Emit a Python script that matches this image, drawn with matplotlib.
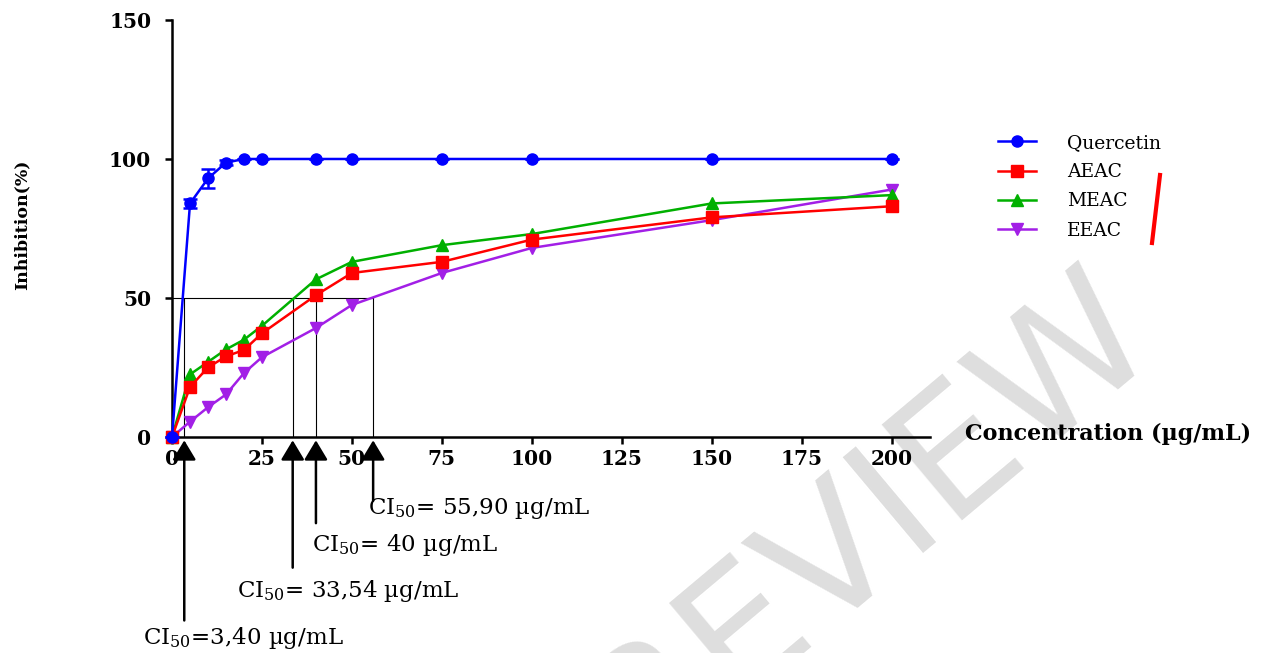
import matplotlib
matplotlib.use("Agg")
import matplotlib.pyplot as plt
from matplotlib.lines import Line2D

plt.rcParams['font.family'] = 'serif'
plt.rcParams['font.serif'] = ['DejaVu Serif', 'Liberation Serif']
plt.rcParams['mathtext.fontset'] = 'dejavuserif'

# Data
conc = [0, 5, 10, 15, 20, 25, 40, 50, 75, 100, 150, 200]
quercetin = [0, 84, 93, 98.7, 100, 100, 100, 100, 100, 100, 100, 100]
quercetin_err = [0, 1.5, 3.4, 1.0, 0, 0, 0, 0, 0, 0, 0, 0]
aeac = [0, 18, 25, 29, 31.3, 37.3, 51, 59, 63, 71, 79, 83]
meac = [0, 22.5, 27, 31.5, 35, 40, 56.7, 63, 69, 73, 84, 87]
eeac = [0, 5.5, 10.7, 15.3, 23, 28.7, 39.2, 47.5, 59, 68, 78, 89]

ci50_values = [3.40, 33.54, 40, 55.90]
ci50_labels = ['CI$_{50}$=3,40 µg/mL', 'CI$_{50}$= 33,54 µg/mL',
               'CI$_{50}$= 40 µg/mL', 'CI$_{50}$= 55,90 µg/mL']

blue = '#0000ff'
red = '#ff0000'
green = '#00b000'
purple = '#a21fe6'

fig = plt.figure(figsize=(12.64, 6.53), dpi=100)
ax = fig.add_axes([0.1361, 0.3308, 0.5997, 0.6386])
ax.set_facecolor('none')

# watermark behind everything
fig.text(0.657, 0.15, 'PREVIEW', fontsize=124, rotation=40, rotation_mode='anchor',
         color='#dedede', ha='center', va='center', family='DejaVu Sans', zorder=-1)

lw = 1.8
ax.plot(conc, eeac, color=purple, lw=lw, marker='v', ms=9, clip_on=False, zorder=3)
ax.plot(conc, meac, color=green, lw=lw, marker='^', ms=9, clip_on=False, zorder=4)
ax.plot(conc, aeac, color=red, lw=lw, marker='s', ms=9, clip_on=False, zorder=5)
ax.errorbar(conc, quercetin, yerr=quercetin_err, color=blue, lw=lw, marker='o', ms=8,
            capsize=5, capthick=1.8, elinewidth=1.8, clip_on=False, zorder=6)

# 50 % guide lines
ax.plot([0, max(ci50_values)], [50, 50], color='black', lw=0.8, zorder=2)
ax.vlines(ci50_values, 0, 50, color='black', lw=0.8, zorder=2)

# arrows under the axis with the CI50 labels
arrow_ends = [-66, -47, -31, -23]
label_y = [-72.3, -55.4, -38.8, -25.9]
label_x = [-8.1, 18, 39, 54.5]
for v, yb, lab, ly, lx in zip(ci50_values, arrow_ends, ci50_labels, label_y, label_x):
    ax.annotate('', xy=(v, -1.2), xytext=(v, yb), xycoords='data', textcoords='data',
                annotation_clip=False,
                arrowprops=dict(arrowstyle='-|>,head_length=0.6,head_width=0.36',
                                mutation_scale=20, color='black', lw=1.8,
                                shrinkA=0, shrinkB=0))
    ax.text(lx, ly, lab, fontsize=16.5, ha='left', va='center', clip_on=False)

ax.set_xlim(0, 210.7)
ax.set_ylim(0, 150)
ax.set_xticks([0, 25, 50, 75, 100, 125, 150, 175, 200])
ax.set_yticks([0, 50, 100, 150])
for s in ['top', 'right']:
    ax.spines[s].set_visible(False)
for s in ['left', 'bottom']:
    ax.spines[s].set_linewidth(1.8)
ax.tick_params(axis='both', direction='out', length=5, width=1.8, labelsize=14.5)
ax.tick_params(axis='x', pad=4)
ax.tick_params(axis='y', pad=10)
for t in ax.get_xticklabels() + ax.get_yticklabels():
    t.set_fontweight('bold')

fig.text(0.0175, 0.655, 'Inhibition(%)', rotation=90, fontsize=12.5, fontweight='bold',
         ha='center', va='center')
fig.text(0.7635, 0.336, 'Concentration (µg/mL)', fontsize=16, fontweight='bold',
         ha='left', va='center')

legend_elements = [
    Line2D([0], [0], color=blue, lw=lw, marker='o', ms=8, label='Quercetin'),
    Line2D([0], [0], color=red, lw=lw, marker='s', ms=9, label='AEAC'),
    Line2D([0], [0], color=green, lw=lw, marker='^', ms=9, label='MEAC'),
    Line2D([0], [0], color=purple, lw=lw, marker='v', ms=9, label='EEAC'),
]
fig.legend(handles=legend_elements, loc='upper left', bbox_to_anchor=(0.7896, 0.795),
           frameon=False, fontsize=13.5, handlelength=2.0, handletextpad=1.7,
           labelspacing=0.6, borderpad=0, borderaxespad=0)

# red stroke next to the legend
fig.add_artist(Line2D([1160 / 1264, 1152 / 1264], [1 - 175 / 653, 1 - 243 / 653],
                      color=red, lw=3, transform=fig.transFigure))

plt.savefig('out.png', dpi=100)
